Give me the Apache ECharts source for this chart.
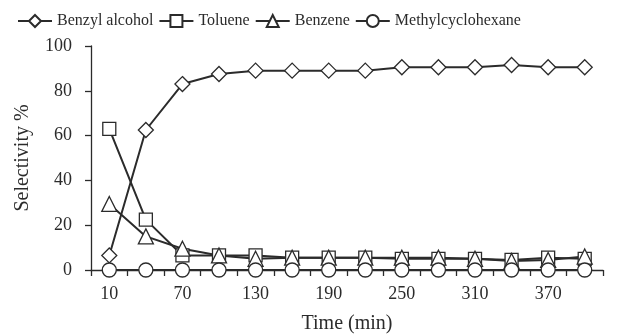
<!DOCTYPE html>
<html><head><meta charset="utf-8">
<script src="https://cdn.jsdelivr.net/npm/echarts@6/dist/echarts.min.js"></script>
<style>html,body{margin:0;padding:0;background:#fff}#c{width:629px;height:335px}</style>
</head><body><div id="c"></div>
<script>
const categories = [10,40,70,100,130,160,190,220,250,280,310,340,370,400];
const benzylAlcohol = [6.5,62.5,83,87.5,89,89,89,89,90.5,90.5,90.5,91.5,90.5,90.5];
const toluene = [63,22.5,6.5,6.5,6.5,5.5,5.5,5.5,5,5,5,4.5,5.5,5];
const benzene = [29.5,15,9.5,6.5,5,5.5,5.5,5.5,5.5,5.5,5,4,4.5,6];
const methylcyclohexane = [0,0,0,0,0,0,0,0,0,0,0,0,0,0];
const yTicks = {min:0, max:100, interval:20};

const font = 'Liberation Serif, Times New Roman, serif';
const ink = '#2b2b2b';
function mk(name, data, symbol, size){
  return {name, type:'line', data, symbol, symbolSize:size,
    lineStyle:{color:ink,width:2}, itemStyle:{color:'#fff',borderColor:ink,borderWidth:1.3},
    emphasis:{disabled:true}, animation:false, z: 2};
}
const chart = echarts.init(document.getElementById('c'));
chart.setOption({
  animation:false,
  textStyle:{fontFamily:font,color:ink},
  legend:{left:12, top:8, itemWidth:34, itemHeight:15, itemGap:5,
    textStyle:{fontFamily:font,fontSize:16,color:ink},
    data:['Benzyl alcohol','Toluene','Benzene','Methylcyclohexane']},
  grid:{left:91, right:26, top:46, bottom:65, outerBoundsMode:'none', containLabel:false},
  xAxis:{type:'category', data:categories, boundaryGap:true,
    name:'Time (min)', nameLocation:'middle', nameGap:44,
    nameTextStyle:{fontFamily:font,fontSize:20,color:ink},
    axisLine:{lineStyle:{color:ink,width:1.3}},
    axisTick:{show:true,interval:0,length:6,inside:false,lineStyle:{color:ink,width:1.3}},
    axisLabel:{interval:1,fontFamily:font,fontSize:18,color:ink,margin:15},
    splitLine:{show:false}},
  yAxis:{type:'value', min:yTicks.min, max:yTicks.max, interval:yTicks.interval,
    name:'Selectivity %', nameLocation:'middle', nameGap:58, nameRotate:90,
    nameTextStyle:{fontFamily:font,fontSize:20,color:ink},
    axisLine:{show:true,lineStyle:{color:ink,width:1.3}},
    axisTick:{show:true,length:6,lineStyle:{color:ink,width:1.3}},
    axisLabel:{fontFamily:font,fontSize:18,color:ink,margin:19},
    splitLine:{show:false}},
  series:[
    mk('Benzyl alcohol', benzylAlcohol, 'diamond', 15),
    mk('Toluene', toluene, 'rect', 13),
    mk('Benzene', benzene, 'triangle', 15),
    mk('Methylcyclohexane', methylcyclohexane, 'circle', 14)
  ]
});
</script></body></html>
